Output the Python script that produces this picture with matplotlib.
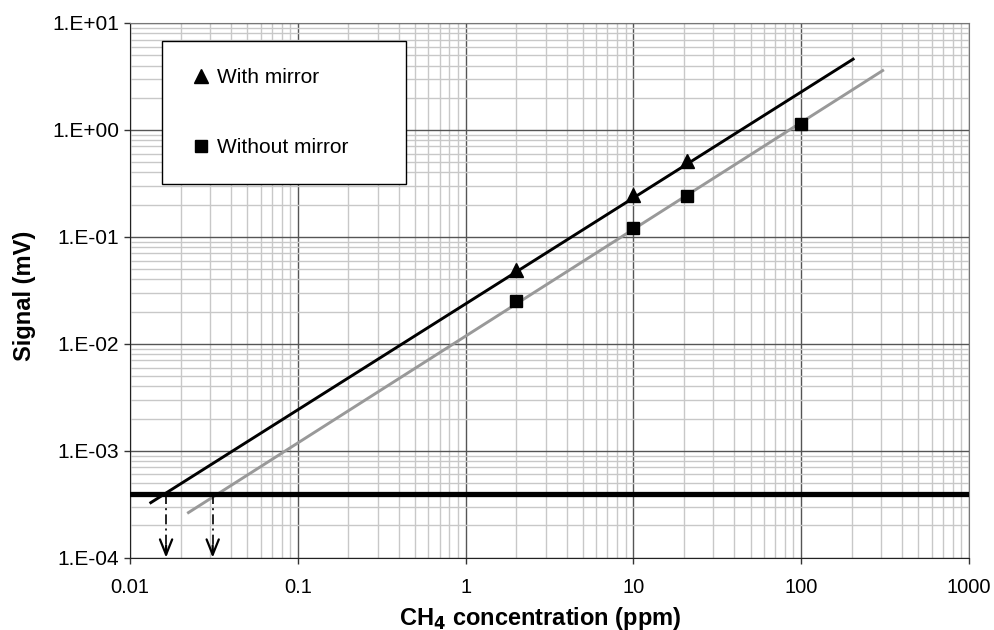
import matplotlib
matplotlib.use('Agg')
import matplotlib.pyplot as plt
from matplotlib.ticker import LogLocator, NullFormatter

plt.rcParams['font.family'] = ['Liberation Sans', 'DejaVu Sans']

# measured points
x_with = [2, 10, 21]
y_with = [0.049, 0.247, 0.517]
x_without = [2, 10, 21, 100]
y_without = [0.025, 0.12, 0.242, 1.14]

# fitted lines (endpoints)
fit_x_with = [0.0133, 204]
fit_y_with = [3.27e-4, 4.59]
fit_x_without = [0.0223, 306]
fit_y_without = [2.64e-4, 3.59]

# noise level and detection limits
noise_level = 3.9e-4
lod_x = [0.0164, 0.0311]

x_ticks = [0.01, 0.1, 1, 10, 100, 1000]
x_ticklabels = ['0.01', '0.1', '1', '10', '100', '1000']
y_ticks = [1e-4, 1e-3, 1e-2, 1e-1, 1e0, 1e1]
y_ticklabels = ['1.E-04', '1.E-03', '1.E-02', '1.E-01', '1.E+00', '1.E+01']

fig = plt.figure(figsize=(9.94, 6.3), dpi=100)
ax = fig.add_axes([0.1308, 0.1148, 0.8440, 0.8487])
ax.set_xscale('log')
ax.set_yscale('log')
ax.set_xlim(0.01, 1000)
ax.set_ylim(1e-4, 10)

ax.set_xticks(x_ticks)
ax.set_xticklabels(x_ticklabels)
ax.set_yticks(y_ticks)
ax.set_yticklabels(y_ticklabels)
ax.xaxis.set_minor_locator(LogLocator(base=10, subs=range(2, 10), numticks=20))
ax.yaxis.set_minor_locator(LogLocator(base=10, subs=range(2, 10), numticks=20))
ax.xaxis.set_minor_formatter(NullFormatter())
ax.yaxis.set_minor_formatter(NullFormatter())

ax.grid(True, which='minor', color='#c8c8c8', linewidth=1.0, zorder=0)
ax.grid(True, which='major', color='#555555', linewidth=1.0, zorder=0)
ax.set_axisbelow(True)
ax.tick_params(which='minor', length=0)
ax.tick_params(which='major', length=4.5, width=1, color='#333333',
               labelsize=14.5, direction='out')
ax.tick_params(axis='y', pad=3.5, labelsize=15)
ax.tick_params(axis='x', pad=10)

for s in ['top', 'right']:
    ax.spines[s].set_color('#777777')
for s in ['left', 'bottom']:
    ax.spines[s].set_color('#222222')

ax.plot(fit_x_with, fit_y_with, color='black', linewidth=2.1, zorder=3)
ax.plot(fit_x_without, fit_y_without, color='#999999', linewidth=2.1, zorder=3)
ax.axhline(noise_level, xmin=0.0, xmax=0.996, color='black', linewidth=3.8, zorder=3)

# dash-dot drop lines with open arrowheads
for xv in lod_x:
    ax.plot([xv, xv], [noise_level, 1.05e-4], color='black', linewidth=1.2,
            linestyle=(0, (6, 2.5, 1.2, 2.5)), zorder=4)
    ax.annotate('', xy=(xv, 1e-4), xytext=(xv, 1.3e-4),
                arrowprops=dict(arrowstyle='->, head_length=0.55, head_width=0.22',
                                color='black', linewidth=1.6, mutation_scale=20,
                                shrinkA=0, shrinkB=0),
                zorder=4, annotation_clip=False)

ax.plot(x_with, y_with, linestyle='none', marker='^', markersize=9.5,
        color='black', label='With mirror', zorder=5)
ax.plot(x_without, y_without, linestyle='none', marker='s', markersize=9,
        color='black', label='Without mirror', zorder=5)

leg = ax.legend(loc='upper left', bbox_to_anchor=(0.0381, 0.966, 0.291, 0.0),
                mode='expand', borderaxespad=0, fontsize=15, frameon=True,
                fancybox=False, edgecolor='black', framealpha=1.0,
                handletextpad=0.22, labelspacing=2.45, borderpad=1.3,
                handlelength=1.1, markerscale=1.0)
leg.get_frame().set_linewidth(1.0)

ax.set_xlabel('CH$_\\mathbf{4}$ concentration (ppm)', fontsize=17, fontweight='bold')
ax.set_ylabel('Signal (mV)', fontsize=17, fontweight='bold')
ax.xaxis.set_label_coords(0.489, -0.088)
ax.yaxis.set_label_coords(-0.112, 0.49)

fig.savefig('out.png', dpi=100)
